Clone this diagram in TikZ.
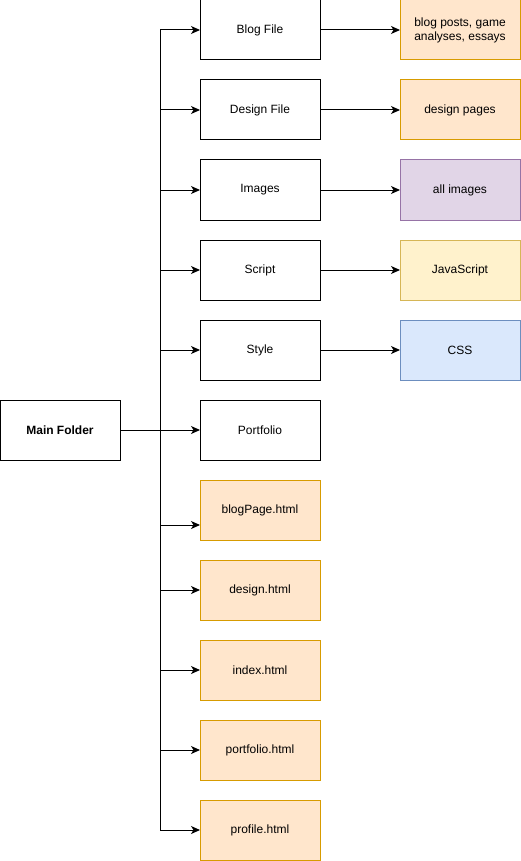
\documentclass[tikz,border=0pt]{standalone}
\usepackage{fontspec}
\setmainfont{Liberation Sans}
\usepackage{tikz}
\usetikzlibrary{positioning,arrows.meta}

\definecolor{orfill}{HTML}{FFE6CC}
\definecolor{ordraw}{HTML}{D79B00}
\definecolor{pufill}{HTML}{E1D5E7}
\definecolor{pudraw}{HTML}{9673A6}
\definecolor{yefill}{HTML}{FFF2CC}
\definecolor{yedraw}{HTML}{D6B656}
\definecolor{blfill}{HTML}{DAE8FC}
\definecolor{bldraw}{HTML}{6C8EBF}

\begin{document}
\begin{tikzpicture}[x=1pt,y=-1pt]
        \tikzstyle{every node}=[draw, line width=1pt, minimum width=120pt, minimum height=60pt,
            outer sep=0pt, align=center, font=\fontsize{12}{14}\selectfont]
        \tikzstyle{orbox}=[fill=orfill, draw=ordraw]
        \tikzstyle{link}=[line width=1pt, -{Stealth[length=9pt,width=8pt,inset=2.5pt]}]
        \useasboundingbox (0,0) rectangle (521,861);

        \node   (main)      at (60,430) {\textbf{Main Folder}};
        \node   (blog)      at (260,30) {Blog File};
        \node   (design)    [below=20pt of blog] {Design File};
        \node   (images)    [below=20pt of design] {Images};
        \node   (script)    [below=20pt of images] {Script};
        \node   (style)     [below=20pt of script] {Style};
        \node   (portfolio) [below=20pt of style] {Portfolio};
        \node   (blogpage)  [below=20pt of portfolio, orbox] {blogPage.html};
        \node   (designp)   [below=20pt of blogpage, orbox] {design.html};
        \node   (index)     [below=20pt of designp, orbox] {index.html};
        \node   (portp)     [below=20pt of index, orbox] {portfolio.html};
        \node   (profile)   [below=20pt of portp, orbox] {profile.html};

        \node   (posts)     [right=80pt of blog, orbox] {blog posts, game\\analyses, essays};
        \node   (pages)     [right=80pt of design, orbox] {design pages};
        \node   (allimg)    [right=80pt of images, fill=pufill, draw=pudraw] {all images};
        \node   (js)        [right=80pt of script, fill=yefill, draw=yedraw] {JavaScript};
        \node   (css)       [right=80pt of style, fill=blfill, draw=bldraw] {CSS};

        \coordinate (trunk) at (160,430);
        \coordinate (bpin) at ([yshift=-15pt]blogpage.west);
        \draw[line width=1pt] (main) -- (trunk);
        \draw[line width=1pt] (trunk |- blog) -- (trunk |- profile);
        \foreach \n in {blog,design,images,script,style,portfolio,designp,index,portp,profile}
            \draw[link] (trunk |- \n) -- (\n);
        \draw[link] (trunk |- bpin) -- (bpin);

        \draw[link] (blog) -- (posts);
        \draw[link] (design) -- (pages);
        \draw[link] (images) -- (allimg);
        \draw[link] (script) -- (js);
        \draw[link] (style) -- (css);
    \end{tikzpicture}
\end{document}
